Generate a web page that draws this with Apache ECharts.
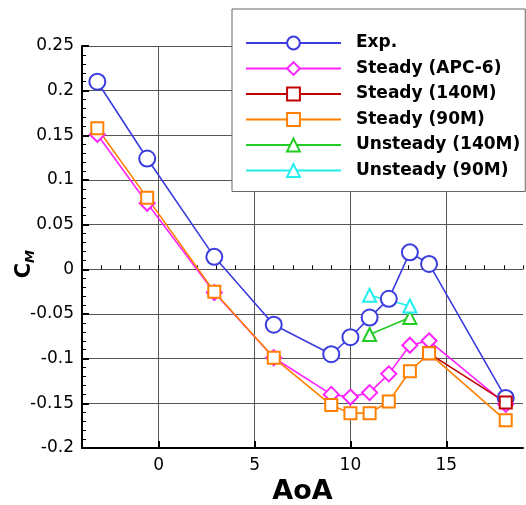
<!DOCTYPE html>
<html><head><meta charset="utf-8">
<script src="https://cdn.jsdelivr.net/npm/echarts@6/dist/echarts.min.js"></script>
<style>html,body{margin:0;padding:0;background:#fff}#c{width:526px;height:505px}</style>
</head><body><div id="c"></div>
<script>
const seriesNames = ['Exp.', 'Steady (APC-6)', 'Steady (140M)', 'Steady (90M)', 'Unsteady (140M)', 'Unsteady (90M)'];
const aoaExp = [-3.2, -0.6, 2.9, 6, 9, 10, 11, 12, 13.1, 14.1, 18.1];
const cmExp = [0.210, 0.124, 0.014, -0.062, -0.095, -0.076, -0.054, -0.033, 0.019, 0.006, -0.144];
const aoaSteady = [-3.2, -0.6, 2.9, 6, 9, 10, 11, 12, 13.1, 14.1, 18.1];
const cmAPC6 = [0.151, 0.074, -0.026, -0.099, -0.140, -0.143, -0.138, -0.117, -0.085, -0.080, -0.151];
const cm90M = [0.158, 0.080, -0.025, -0.099, -0.152, -0.161, -0.161, -0.148, -0.114, -0.094, -0.169];
const aoa140M = [14.1, 18.1];
const cm140M = [-0.094, -0.149];
const aoaUnsteady = [11, 13.1];
const cmU140M = [-0.073, -0.054];
const cmU90M = [-0.029, -0.041];

const zip = (xs, ys) => xs.map((x, i) => [x, ys[i]]);
const FONT = '"DejaVu Sans", sans-serif';

function mk(name, xs, ys, color, symbol, size) {
  return {
    name, type: 'line', data: zip(xs, ys), xAxisIndex: 0, yAxisIndex: 0,
    symbol, symbolSize: size, showAllSymbol: true,
    lineStyle: { color, width: 1.6 },
    itemStyle: { color, borderColor: color, borderWidth: 2 },
    emphasis: { disabled: true }, animation: false
  };
}

const chart = echarts.init(document.getElementById('c'));
chart.setOption({
  animation: false,
  backgroundColor: '#fff',
  grid: { left: 82, right: 3, top: 46, bottom: 57, containLabel: false, outerBoundsMode: 'none' },
  xAxis: [{
    type: 'value', position: 'bottom', min: -4, max: 19,
    name: 'AoA', nameLocation: 'middle', nameGap: 30,
    nameTextStyle: { fontFamily: FONT, fontSize: 27, fontWeight: 'bold', color: '#000' },
    axisLine: { show: true, onZero: false, lineStyle: { color: '#000', width: 2 } },
    axisTick: { show: true, inside: true, length: 7, lineStyle: { color: '#000', width: 2 } },
    axisLabel: { fontFamily: FONT, fontSize: 17, color: '#000', margin: 9, showMinLabel: false, showMaxLabel: false },
    splitLine: { show: true, showMinLine: false, showMaxLine: false, lineStyle: { color: '#555', width: 1 } }
  }, {
    type: 'value', position: 'bottom', min: -4, max: 19, interval: 1,
    axisLine: { show: false }, axisLabel: { show: false }, splitLine: { show: false },
    axisTick: { show: true, inside: true, length: 4, lineStyle: { color: '#000', width: 1 } }
  }],
  yAxis: [{
    type: 'value', min: -0.2, max: 0.25, interval: 0.05,
    axisLine: { show: true, onZero: false, lineStyle: { color: '#000', width: 2 } },
    axisTick: { show: true, inside: true, length: 7, lineStyle: { color: '#000', width: 2 } },
    minorTick: { show: true, splitNumber: 5, length: 4, lineStyle: { color: '#000', width: 1 } },
    axisLabel: { fontFamily: FONT, fontSize: 17, color: '#000', margin: 8 },
    splitLine: { show: true, showMinLine: false, lineStyle: { color: '#555', width: 1 } }
  }],
  legend: {
    orient: 'vertical', left: 232, top: 9,
    data: seriesNames,
    backgroundColor: '#fff', borderColor: '#666', borderWidth: 1,
    padding: [24, 5, 11, 13],
    itemWidth: 95, itemHeight: 16, itemGap: 5.5,
    textStyle: { fontFamily: FONT, fontSize: 17, fontWeight: 'bold', color: '#000', lineHeight: 20, padding: [0, 0, 0, 10] },
    selectedMode: false
  },
  graphic: [{
    type: 'text', left: 14, top: 250, rotation: Math.PI / 2,
    style: {
      text: '{c|C}{m|M}',
      rich: {
        c: { fontFamily: FONT, fontSize: 21, fontWeight: 'bold', fill: '#000' },
        m: { fontFamily: FONT, fontSize: 13, fontWeight: 'bold', fontStyle: 'italic', fill: '#000', padding: [12, 0, 0, 0] }
      }
    }
  }],
  series: [
    mk(seriesNames[0], aoaExp, cmExp, '#3b3be0', 'emptyCircle', 16),
    mk(seriesNames[1], aoaSteady, cmAPC6, '#ff22ff', 'emptyDiamond', 15),
    mk(seriesNames[2], aoa140M, cm140M, '#c00000', 'emptyRect', 12),
    mk(seriesNames[3], aoaSteady, cm90M, '#ff8000', 'emptyRect', 12),
    mk(seriesNames[4], aoaUnsteady, cmU140M, '#22cc22', 'emptyTriangle', 13),
    mk(seriesNames[5], aoaUnsteady, cmU90M, '#22eeee', 'emptyTriangle', 13)
  ]
});
</script></body></html>
